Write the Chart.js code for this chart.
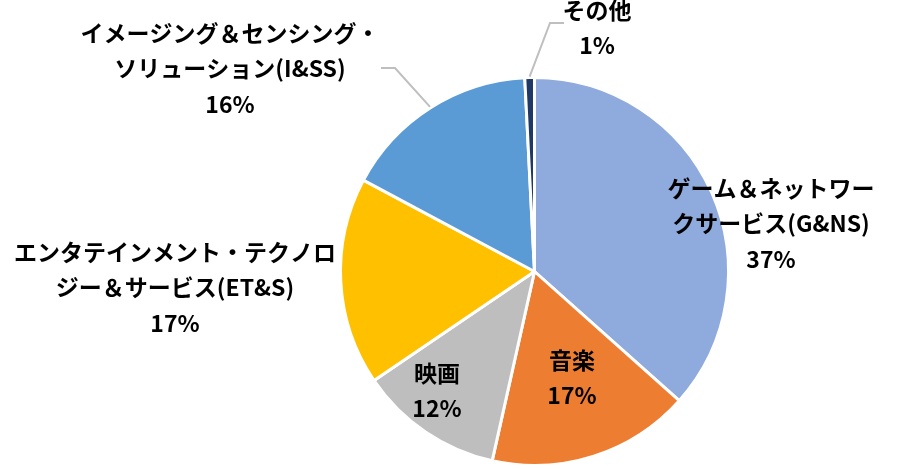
<!DOCTYPE html>
<html>
<head>
<meta charset="utf-8">
<script src="https://cdn.jsdelivr.net/npm/chart.js@4.4.1/dist/chart.umd.min.js"></script>
<style>
  html, body { margin: 0; padding: 0; background: #fff; }
  #wrap { width: 907px; height: 469px; position: relative; }
</style>
</head>
<body>
<div id="wrap"><canvas id="chart"></canvas></div>
<script>
// segment names (each line of the label), values in %
const categories = [
  ['ゲーム＆ネットワー', 'クサービス(G&NS)'],
  ['音楽'],
  ['映画'],
  ['エンタテインメント・テクノロ', 'ジー＆サービス(ET&S)'],
  ['イメージング＆センシング・', 'ソリューション(I&SS)'],
  ['その他']
]
const values = [36.6, 16.9, 12.0, 17.3, 16.4, 0.8]
const colors = ['#8faadc', '#ed7d31', '#bebebe', '#ffc000', '#5b9bd5', '#203864']

// where each label block sits (center x, first line y) and whether it gets a leader line
const labelPos = [
  {x: 771, y: 188},
  {x: 572, y: 360},
  {x: 437, y: 373},
  {x: 175, y: 252},
  {x: 230, y: 33, leader: {x1: 381, x2: 395, y: 68}},
  {x: 597, y: 10, leader: {x1: 564, x2: 550, y: 23}}
]

const lineH = 35.5

const labelPlugin = {
  id: 'pieLabels',
  afterDatasetsDraw(chart) {
    const ctx = chart.ctx
    const meta = chart.getDatasetMeta(0)
    ctx.save()
    meta.data.forEach((arc, i) => {
      const p = labelPos[i]
      if (p.leader) {
        const mid = (arc.startAngle + arc.endAngle) / 2
        const r = arc.outerRadius + 1
        ctx.strokeStyle = '#bfbfbf'
        ctx.lineWidth = 2
        ctx.beginPath()
        ctx.moveTo(p.leader.x1, p.leader.y)
        ctx.lineTo(p.leader.x2, p.leader.y)
        ctx.lineTo(arc.x + r * Math.cos(mid), arc.y + r * Math.sin(mid))
        ctx.stroke()
      }
      const lines = categories[i].concat([Math.round(values[i]) + '%'])
      ctx.fillStyle = '#000'
      ctx.font = 'bold 23px "Noto Sans CJK JP"'
      ctx.textAlign = 'center'
      ctx.textBaseline = 'middle'
      lines.forEach((t, k) => ctx.fillText(t, p.x, p.y + k * lineH))
    })
    ctx.restore()
  }
}

new Chart(document.getElementById('chart'), {
  type: 'pie',
  data: {
    labels: categories.map(c => c.join('')),
    datasets: [{
      data: values,
      backgroundColor: colors,
      borderColor: '#ffffff',
      borderWidth: 3
    }]
  },
  options: {
    responsive: true,
    maintainAspectRatio: false,
    animation: false,
    layout: {padding: {left: 163, right: 1, top: 76, bottom: 2}},
    plugins: {
      legend: {display: false},
      tooltip: {enabled: false}
    }
  },
  plugins: [labelPlugin]
})
</script>
</body>
</html>
